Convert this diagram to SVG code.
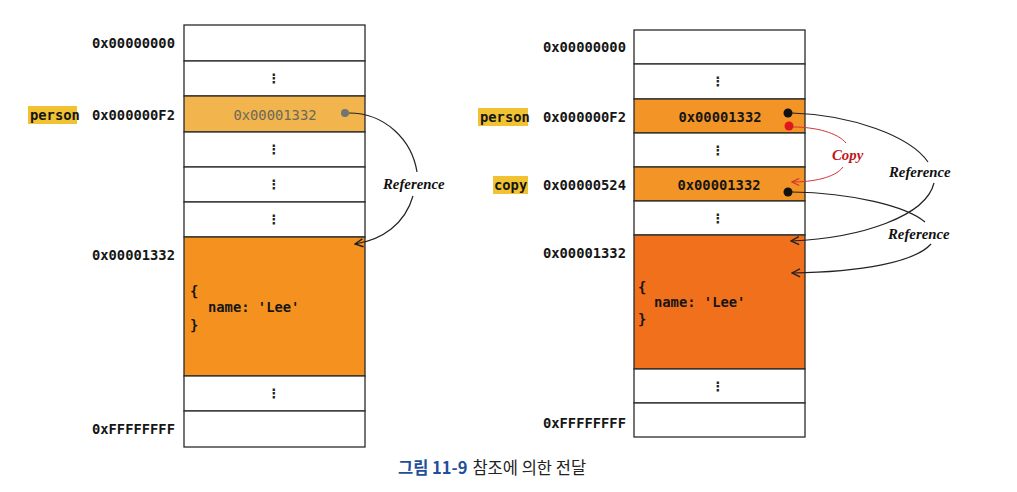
<svg xmlns="http://www.w3.org/2000/svg" width="1017" height="492" viewBox="0 0 1017 492">
<defs>
<style>
.cell{stroke:#2a2a2a;stroke-width:1.3}
.w{fill:#ffffff}
.o1{fill:#f2b44c}
.o2{fill:#f5921f}
.o3{fill:#f39526}
.o4{fill:#f0701c}
.mono{font-family:"DejaVu Sans Mono","Liberation Mono",monospace;font-size:13.8px;font-weight:bold;fill:#161616}
.addr{text-anchor:end}
.val{text-anchor:middle}
.faint{font-weight:normal;fill:#6a6a5a}
.vd{font-family:"DejaVu Sans",sans-serif;font-size:13px;font-weight:bold;fill:#222;text-anchor:middle}
.hl{fill:#f1c232}
.lbl{font-family:"Liberation Serif",serif;font-style:italic;font-weight:bold;font-size:14.8px;fill:#111}
.red{fill:#c0141c}
.con{fill:none;stroke:#222;stroke-width:1.2}
.rcon{fill:none;stroke:#d2343a;stroke-width:1}
.title{font-family:"Noto Sans CJK KR",sans-serif;font-size:16.5px}
</style>
<marker id="ah" viewBox="0 0 10 10" refX="9" refY="5" markerWidth="10" markerHeight="10" markerUnits="userSpaceOnUse" orient="auto">
<path d="M1,1 L9,5 L1,9" fill="none" stroke="#222" stroke-width="1.4"/>
</marker>
<marker id="ahr" viewBox="0 0 10 10" refX="9" refY="5" markerWidth="9" markerHeight="9" markerUnits="userSpaceOnUse" orient="auto">
<path d="M1,1 L9,5 L1,9" fill="none" stroke="#d2343a" stroke-width="1.3"/>
</marker>
</defs>
<rect width="1017" height="492" fill="#ffffff"/>

<!-- LEFT STACK -->
<g id="left-cell-0"><rect class="cell w" x="184" y="25" width="181" height="36"/><text class="mono addr" x="175" y="48">0x00000000</text></g>
<g id="left-cell-1"><rect class="cell w" x="184" y="61" width="181" height="35"/><text class="vd" x="274" y="83">⋮</text></g>
<g id="left-person"><rect class="cell o1" x="184" y="96" width="181" height="36"/>
<rect class="hl" x="28" y="106" width="49" height="18"/><text class="mono" x="30" y="120">person</text>
<text class="mono addr" x="175" y="120">0x000000F2</text>
<text class="mono val faint" x="275" y="120">0x00001332</text>
<circle cx="345" cy="113" r="4" fill="#6f7572"/></g>
<g id="left-cell-3"><rect class="cell w" x="184" y="132" width="181" height="35"/><text class="vd" x="274" y="154">⋮</text></g>
<g id="left-cell-4"><rect class="cell w" x="184" y="167" width="181" height="35"/><text class="vd" x="274" y="189">⋮</text></g>
<g id="left-cell-5"><rect class="cell w" x="184" y="202" width="181" height="35"/><text class="vd" x="274" y="224">⋮</text></g>
<g id="left-object"><rect class="cell o2" x="184" y="237" width="181" height="139"/>
<text class="mono addr" x="175" y="260">0x00001332</text>
<text class="mono" x="190" y="296">{</text>
<text class="mono" x="208" y="312">name: 'Lee'</text>
<text class="mono" x="190" y="330">}</text></g>
<g id="left-cell-7"><rect class="cell w" x="184" y="376" width="181" height="35"/><text class="vd" x="274" y="398">⋮</text></g>
<g id="left-cell-8"><rect class="cell w" x="184" y="411" width="181" height="36"/><text class="mono addr" x="175" y="434">0xFFFFFFFF</text></g>

<!-- RIGHT STACK -->
<g id="right-cell-0"><rect class="cell w" x="634" y="30" width="171" height="34"/><text class="mono addr" x="626" y="52">0x00000000</text></g>
<g id="right-cell-1"><rect class="cell w" x="634" y="64" width="171" height="35"/><text class="vd" x="718" y="86">⋮</text></g>
<g id="right-person"><rect class="cell o3" x="634" y="99" width="171" height="34"/>
<rect class="hl" x="478" y="108" width="50" height="18"/><text class="mono" x="480" y="122">person</text>
<text class="mono addr" x="626" y="122">0x000000F2</text>
<text class="mono val" x="720" y="122">0x00001332</text>
<circle cx="788" cy="113" r="4.5" fill="#111"/>
<circle cx="789" cy="126" r="4.5" fill="#e0161c"/></g>
<g id="right-cell-3"><rect class="cell w" x="634" y="133" width="171" height="34"/><text class="vd" x="718" y="155">⋮</text></g>
<g id="right-copy"><rect class="cell o3" x="634" y="167" width="171" height="34"/>
<rect class="hl" x="493" y="176" width="35" height="18"/><text class="mono" x="494" y="190">copy</text>
<text class="mono addr" x="626" y="190">0x00000524</text>
<text class="mono val" x="719" y="190">0x00001332</text>
<circle cx="788" cy="192" r="4.5" fill="#111"/></g>
<g id="right-cell-5"><rect class="cell w" x="634" y="201" width="171" height="34"/><text class="vd" x="718" y="223">⋮</text></g>
<g id="right-object"><rect class="cell o4" x="634" y="235" width="171" height="134"/>
<text class="mono addr" x="626" y="258">0x00001332</text>
<text class="mono" x="638" y="292">{</text>
<text class="mono" x="654" y="307">name: 'Lee'</text>
<text class="mono" x="638" y="324">}</text></g>
<g id="right-cell-7"><rect class="cell w" x="634" y="369" width="171" height="34"/><text class="vd" x="718" y="391">⋮</text></g>
<g id="right-cell-8"><rect class="cell w" x="634" y="403" width="171" height="34"/><text class="mono addr" x="626" y="428">0xFFFFFFFF</text></g>

<!-- CONNECTORS -->
<g id="connectors">
<path class="con" d="M349,113 C385,113 412,140 417,172"/>
<path class="con" d="M413,196 C405,224 382,240 355,244" marker-end="url(#ah)"/>
<path class="con" d="M792,113 C852,115 910,136 928,162"/>
<path class="con" d="M934,183 C926,216 862,238 791,241" marker-end="url(#ah)"/>
<path class="con" d="M792,192 C852,193 906,206 925,222"/>
<path class="con" d="M931,244 C915,262 862,272 792,273" marker-end="url(#ah)"/>
<path class="rcon" d="M793,127 C816,127 838,133 846,143"/>
<path class="rcon" d="M843,167 C835,178 812,182 792,182" marker-end="url(#ahr)"/>
<text class="lbl" x="383" y="189">Reference</text>
<text class="lbl" x="889" y="177">Reference</text>
<text class="lbl" x="888" y="239">Reference</text>
<text class="lbl red" x="832" y="160">Copy</text>
</g>

<text class="title" x="398" y="474"><tspan fill="#1f4e9c" font-weight="bold">그림 11-9</tspan><tspan fill="#222" dx="5">참조에 의한 전달</tspan></text>
</svg>
